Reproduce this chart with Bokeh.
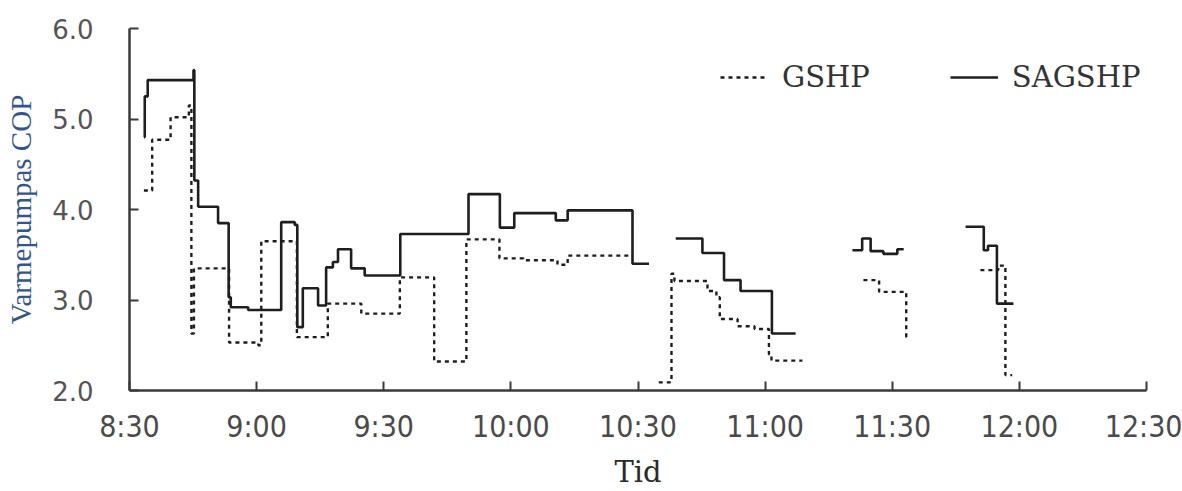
from bokeh.plotting import figure
from bokeh.models import Range1d, FixedTicker, Legend, LegendItem
from bokeh.embed import file_html
from bokeh.resources import INLINE

# x values: minutes after 8:30
tick_minutes = [0, 30, 60, 90, 120, 150, 180, 210, 240]
tick_labels = ["8:30", "9:00", "9:30", "10:00", "10:30", "11:00", "11:30", "12:00", "12:30"]
y_ticks = [2.0, 3.0, 4.0, 5.0, 6.0]
x_title = "Tid"
y_title = "Varmepumpas COP"

# Step segments: change times (last = end time) and the value held after each change
sag_seg1_t = [3.4, 3.6, 4.3, 15.1, 15.3, 16.2, 20.9, 23.4, 23.9, 28.0, 35.8, 39.0, 39.6, 40.9,
              44.5, 46.4, 48.0, 49.2, 52.3, 55.5, 63.9, 80.0, 87.4, 90.8, 100.6, 103.4, 118.7, 122.6]
sag_seg1_v = [4.80, 5.25, 5.43, 5.54, 4.32, 4.03, 3.85, 3.03, 2.92, 2.89, 3.86, 3.83, 2.70, 3.13,
              2.94, 3.36, 3.42, 3.56, 3.35, 3.27, 3.73, 4.17, 3.80, 3.96, 3.88, 3.99, 3.40]
sag_seg2_t = [128.9, 135.2, 140.3, 144.2, 151.6, 157.2]
sag_seg2_v = [3.68, 3.52, 3.22, 3.10, 2.63]
sag_seg3_t = [170.6, 172.9, 174.9, 177.9, 181.2, 182.7]
sag_seg3_v = [3.55, 3.68, 3.54, 3.51, 3.56]
sag_seg4_t = [197.3, 201.6, 202.6, 204.7, 208.6]
sag_seg4_v = [3.81, 3.55, 3.60, 2.96]

gshp_seg1_t = [3.4, 5.35, 9.7, 14.0, 14.6, 15.2, 23.5, 30.4, 31.1, 39.5, 46.8, 54.7, 63.8,
               71.9, 79.5, 87.3, 93.0, 101.0, 103.4, 118.7]
gshp_seg1_v = [4.21, 4.77, 5.02, 5.15, 2.63, 3.35, 2.53, 2.50, 3.65, 2.59, 2.96, 2.85, 3.25,
               2.32, 3.67, 3.46, 3.44, 3.39, 3.49]
gshp_seg2_t = [124.9, 127.9, 128.6, 136.4, 138.5, 139.3, 143.5, 147.5, 150.9, 151.5, 158.8]
gshp_seg2_v = [2.09, 3.29, 3.21, 3.10, 3.03, 2.79, 2.71, 2.68, 2.40, 2.33]
gshp_seg3_t = [173.2, 176.9, 183.3, 183.4]
gshp_seg3_v = [3.22, 3.09, 2.59]
gshp_seg4_t = [200.8, 205.0, 206.7, 208.3]
gshp_seg4_v = [3.33, 3.38, 2.17]

sag_segments = [(sag_seg1_t, sag_seg1_v), (sag_seg2_t, sag_seg2_v),
                (sag_seg3_t, sag_seg3_v), (sag_seg4_t, sag_seg4_v)]
gshp_segments = [(gshp_seg1_t, gshp_seg1_v), (gshp_seg2_t, gshp_seg2_v),
                 (gshp_seg3_t, gshp_seg3_v), (gshp_seg4_t, gshp_seg4_v)]


def expand(segments):
    xs, ys = [], []
    for t, v in segments:
        x, y = [], []
        for i, val in enumerate(v):
            x += [t[i], t[i + 1]]
            y += [val, val]
        xs.append(x)
        ys.append(y)
    return xs, ys


p = figure(width=1182, height=491, output_backend="svg", toolbar_location=None,
           x_range=Range1d(0, 240), y_range=Range1d(2, 6),
           min_border_left=129, min_border_right=36, min_border_top=28, min_border_bottom=101)
p.outline_line_color = None
p.grid.visible = False
p.background_fill_color = "white"
p.border_fill_color = "white"

gx, gy = expand(gshp_segments)
sx, sy = expand(sag_segments)
r_g = p.multi_line(gx, gy, line_color="#1e1e1e", line_width=2.4, line_dash="4 4")
r_s = p.multi_line(sx, sy, line_color="#1e1e1e", line_width=2.6)

for ax in (p.xaxis[0], p.yaxis[0]):
    ax.axis_line_color = "#3a3a3a"
    ax.axis_line_width = 2.5
    ax.major_tick_line_color = "#3a3a3a"
    ax.major_tick_line_width = 2
    ax.major_tick_in = 9
    ax.major_tick_out = 0
    ax.minor_tick_line_color = None

p.xaxis.ticker = FixedTicker(ticks=tick_minutes)
p.xaxis.major_label_overrides = {m: l for m, l in zip(tick_minutes, tick_labels)}
p.xaxis.major_label_text_font = "DejaVu Sans Condensed"
p.xaxis.major_label_text_font_size = "30px"
p.xaxis.major_label_text_color = "#4a4a4a"
p.xaxis.major_label_standoff = 18
p.xaxis.axis_label = x_title
p.xaxis.axis_label_text_font = "DejaVu Serif"
p.xaxis.axis_label_text_font_style = "normal"
p.xaxis.axis_label_text_font_size = "29px"
p.xaxis.axis_label_text_color = "#2a2a2a"
p.xaxis.axis_label_standoff = 8

p.yaxis.ticker = FixedTicker(ticks=y_ticks)
p.yaxis.major_label_overrides = {t: f"{t:.1f}" for t in y_ticks}
p.yaxis.major_label_text_font = "DejaVu Sans"
p.yaxis.major_label_text_font_size = "26px"
p.yaxis.major_label_text_color = "#555555"
p.yaxis.major_label_standoff = 36
p.yaxis.axis_label = y_title
p.yaxis.axis_label_text_font = "Liberation Serif"
p.yaxis.axis_label_text_font_style = "normal"
p.yaxis.axis_label_text_font_size = "29px"
p.yaxis.axis_label_text_color = "#2f5597"
p.yaxis.axis_label_standoff = 12

legend = Legend(items=[LegendItem(label="GSHP", renderers=[r_g]),
                       LegendItem(label="SAGSHP", renderers=[r_s])],
                orientation="horizontal", location=(591, 296),
                glyph_width=48, label_standoff=14, spacing=80, padding=0, margin=0,
                border_line_color=None, background_fill_alpha=0,
                label_text_font="DejaVu Serif", label_text_font_size="29px",
                label_text_color="#333333")
p.add_layout(legend)

open("out.html", "w").write(file_html(p, INLINE))
